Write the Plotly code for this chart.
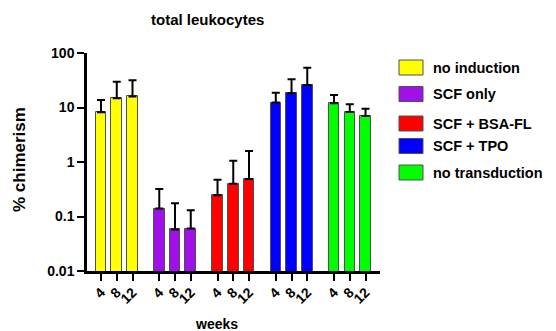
import plotly.graph_objects as go

# ---- data ----
groups = ["no induction", "SCF only", "SCF + BSA-FL", "SCF + TPO", "no transduction"]
weeks = ["4", "8", "12"]
chimerism = {
    "no induction":    [8.2, 14.8, 16.0],
    "SCF only":        [0.14, 0.058, 0.06],
    "SCF + BSA-FL":    [0.245, 0.40, 0.49],
    "SCF + TPO":       [12.3, 18.2, 25.9],
    "no transduction": [12.0, 8.3, 7.0],
}
error_up = {
    "no induction":    [5.5, 15.0, 15.6],
    "SCF only":        [0.18, 0.117, 0.07],
    "SCF + BSA-FL":    [0.225, 0.65, 1.11],
    "SCF + TPO":       [6.3, 14.8, 27.8],
    "no transduction": [5.0, 3.2, 2.5],
}
y_ticks = [0.01, 0.1, 1, 10, 100]
y_ticklabels = ["0.01", "0.1", "1", "10", "100"]

# ---- style ----
colors = ["#FFFF00", "#A010E8", "#FF0000", "#0000FF", "#00FF00"]
GROUP_STEP = 3.7
W, H = 556, 331
L, R, T, B = 87, 176, 53, 60
pw, ph = W - L - R, H - T - B
FONT = "Liberation Sans, Arial, sans-serif"

fig = go.Figure()
tickvals, ticktext = [], []
for g, name in enumerate(groups):
    xs = [g * GROUP_STEP + j for j in range(len(weeks))]
    tickvals += xs
    ticktext += weeks
    fig.add_trace(go.Bar(
        x=xs, y=chimerism[name], name=name, width=0.67,
        marker=dict(color=colors[g], line=dict(color="#505050", width=1)),
        error_y=dict(type="data", array=error_up[name], arrayminus=[0] * 3,
                     symmetric=False, color="black", thickness=2, width=4),
        showlegend=False,
    ))

def px_x(px):
    return (px - L) / pw

def px_y(py):
    return (H - B - py) / ph

# manual legend (irregular spacing as in the reference)
legend_y = [67.5, 94, 123.5, 146, 172.5]
for g, name in enumerate(groups):
    cy = legend_y[g]
    fig.add_shape(type="rect", xref="paper", yref="paper",
                  x0=px_x(399), x1=px_x(423), y0=px_y(cy + 7.5), y1=px_y(cy - 7.5),
                  fillcolor=colors[g], line=dict(color="#505050", width=1))
    fig.add_annotation(xref="paper", yref="paper", x=px_x(431), y=px_y(cy),
                       text=name, showarrow=False, xanchor="left", yanchor="middle",
                       font=dict(family=FONT, size=14.5, color="black", weight="bold"))

# title and axis titles
fig.add_annotation(xref="paper", yref="paper", x=px_x(207), y=px_y(20),
                   text="total leukocytes", showarrow=False, xanchor="center", yanchor="middle",
                   font=dict(family=FONT, size=15, color="black", weight="bold"))
fig.add_annotation(xref="paper", yref="paper", x=px_x(19), y=px_y(160),
                   text="% chimerism", showarrow=False, textangle=-90,
                   xanchor="center", yanchor="middle",
                   font=dict(family=FONT, size=17, color="black", weight="bold"))
fig.add_annotation(xref="paper", yref="paper", x=px_x(216), y=px_y(324),
                   text="weeks", showarrow=False, xanchor="center", yanchor="middle",
                   font=dict(family=FONT, size=14, color="black", weight="bold"))

last = (len(groups) - 1) * GROUP_STEP + len(weeks) - 1
fig.update_layout(
    width=W, height=H,
    margin=dict(l=L, r=R, t=T, b=B, pad=0, autoexpand=False),
    plot_bgcolor="white", paper_bgcolor="white",
    bargap=0,
    font=dict(family=FONT, color="black"),
)
fig.update_xaxes(
    automargin=False,
    range=[-0.89, last + 0.92],
    tickmode="array", tickvals=tickvals, ticktext=ticktext, tickangle=-45,
    ticklabelstandoff=-2,
    showline=True, linecolor="black", linewidth=2.5,
    ticks="outside", ticklen=7, tickwidth=2, tickcolor="black",
    tickfont=dict(size=14, weight="bold"),
    showgrid=False, zeroline=False,
)
fig.update_yaxes(
    automargin=False,
    type="log", range=[-2, 2],
    tickmode="array", tickvals=y_ticks, ticktext=y_ticklabels,
    showline=True, linecolor="black", linewidth=2.5,
    ticks="outside", ticklen=7, tickwidth=2, tickcolor="black",
    tickfont=dict(size=14, weight="bold"),
    showgrid=False, zeroline=False,
)

fig.write_html("out.html", config={"displayModeBar": False},
               post_script="document.body.style.margin='0px';")
